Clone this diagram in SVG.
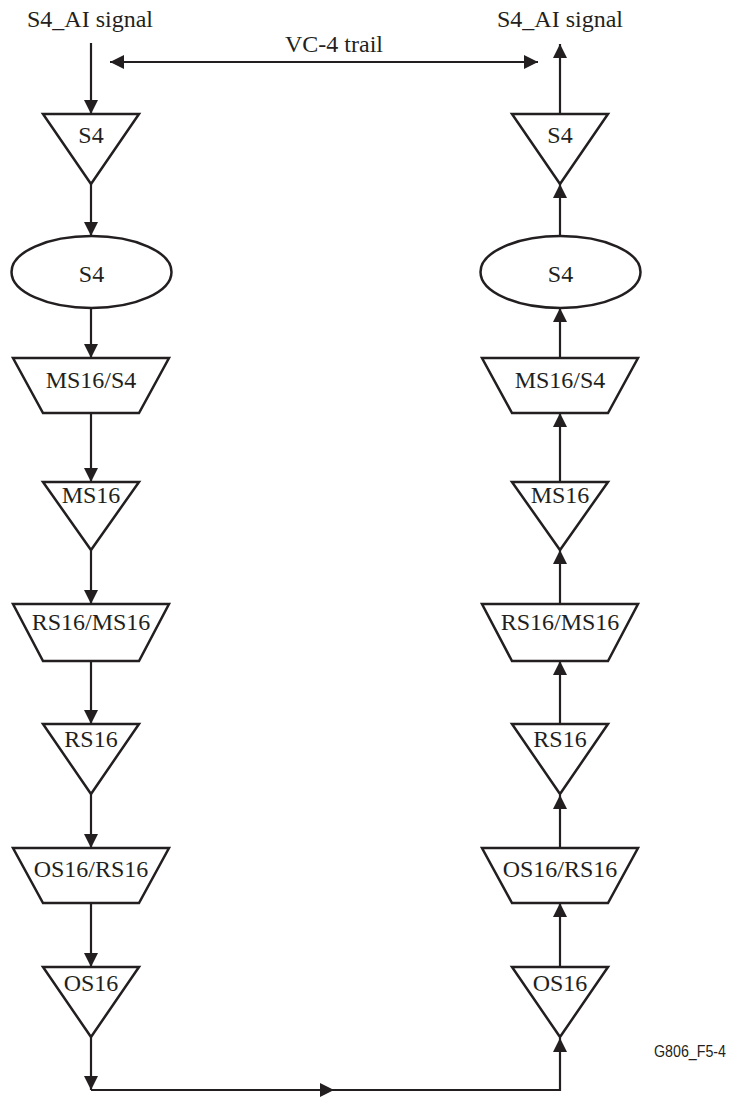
<svg xmlns="http://www.w3.org/2000/svg" width="734" height="1099" viewBox="0 0 734 1099">
<style>
.shape{fill:#fff;stroke:#231f20;stroke-width:2.5;stroke-linejoin:miter}
.conn{fill:none;stroke:#231f20;stroke-width:2.2}
.lbl{font-family:"Liberation Serif","Times New Roman",serif;font-size:24px;fill:#231f20;text-anchor:middle}
.ref{font-family:"Liberation Sans",Arial,sans-serif;font-size:16px;fill:#231f20}
</style>
<defs>
<marker id="arr" markerUnits="userSpaceOnUse" markerWidth="14" markerHeight="14" viewBox="0 0 13 13" refX="13" refY="6.5" orient="auto-start-reverse">
<path d="M0,0 L13,6.5 L0,13 z" fill="#231f20"/>
</marker>
</defs>
<rect width="734" height="1099" fill="#fff"/>
<g id="connectors">
<path class="conn" d="M110,62 H538" marker-start="url(#arr)" marker-end="url(#arr)"/>
<path class="conn" d="M91,43 V114" marker-end="url(#arr)"/>
<path class="conn" d="M91,184 V236" marker-end="url(#arr)"/>
<path class="conn" d="M91,308 V358" marker-end="url(#arr)"/>
<path class="conn" d="M91,413 V482" marker-end="url(#arr)"/>
<path class="conn" d="M91,550 V604" marker-end="url(#arr)"/>
<path class="conn" d="M91,661 V724" marker-end="url(#arr)"/>
<path class="conn" d="M91,794 V848" marker-end="url(#arr)"/>
<path class="conn" d="M91,903 V967" marker-end="url(#arr)"/>
<path class="conn" d="M91,1037 V1090" marker-end="url(#arr)"/>
<path class="conn" d="M91,1090 H334" marker-end="url(#arr)"/>
<path class="conn" d="M334,1090 H560 V1038" marker-end="url(#arr)"/>
<path class="conn" d="M560,967 V903" marker-end="url(#arr)"/>
<path class="conn" d="M560,848 V795" marker-end="url(#arr)"/>
<path class="conn" d="M560,724 V661" marker-end="url(#arr)"/>
<path class="conn" d="M560,604 V550" marker-end="url(#arr)"/>
<path class="conn" d="M560,482 V413" marker-end="url(#arr)"/>
<path class="conn" d="M560,358 V308" marker-end="url(#arr)"/>
<path class="conn" d="M560,236 V184" marker-end="url(#arr)"/>
<path class="conn" d="M560,114 V44" marker-end="url(#arr)"/>
</g>
<g id="labels">
<text class="lbl" x="90" y="27">S4_AI signal</text>
<text class="lbl" x="560" y="27">S4_AI signal</text>
<text class="lbl" x="334" y="52">VC-4 trail</text>
<text class="ref" x="654" y="1057" textLength="72" lengthAdjust="spacingAndGlyphs">G806_F5-4</text>
</g>
<g id="L-S4-tt"><polygon class="shape" points="43,114 139,114 91,184"/><text class="lbl" x="91" y="143">S4</text></g>
<g id="L-S4-adapt"><ellipse class="shape" cx="91.5" cy="272" rx="80" ry="36"/><text class="lbl" x="91.5" y="282">S4</text></g>
<g id="L-MS16-S4"><polygon class="shape" points="13,358 169,358 139,413 43,413"/><text class="lbl" x="91" y="388">MS16/S4</text></g>
<g id="L-MS16"><polygon class="shape" points="43,482 139,482 91,550"/><text class="lbl" x="91" y="503">MS16</text></g>
<g id="L-RS16-MS16"><polygon class="shape" points="13,604 169,604 139,661 43,661"/><text class="lbl" x="91" y="630">RS16/MS16</text></g>
<g id="L-RS16"><polygon class="shape" points="43,724 139,724 91,794"/><text class="lbl" x="91" y="747">RS16</text></g>
<g id="L-OS16-RS16"><polygon class="shape" points="13,848 169,848 139,903 43,903"/><text class="lbl" x="91" y="877">OS16/RS16</text></g>
<g id="L-OS16"><polygon class="shape" points="43,967 139,967 91,1037"/><text class="lbl" x="91" y="991">OS16</text></g>
<g id="R-S4-tt"><polygon class="shape" points="512,114 608,114 560,184"/><text class="lbl" x="560" y="143">S4</text></g>
<g id="R-S4-adapt"><ellipse class="shape" cx="560.5" cy="272" rx="80" ry="36"/><text class="lbl" x="560.5" y="282">S4</text></g>
<g id="R-MS16-S4"><polygon class="shape" points="482,358 638,358 608,413 512,413"/><text class="lbl" x="560" y="388">MS16/S4</text></g>
<g id="R-MS16"><polygon class="shape" points="512,482 608,482 560,550"/><text class="lbl" x="560" y="503">MS16</text></g>
<g id="R-RS16-MS16"><polygon class="shape" points="482,604 638,604 608,661 512,661"/><text class="lbl" x="560" y="630">RS16/MS16</text></g>
<g id="R-RS16"><polygon class="shape" points="512,724 608,724 560,794"/><text class="lbl" x="560" y="747">RS16</text></g>
<g id="R-OS16-RS16"><polygon class="shape" points="482,848 638,848 608,903 512,903"/><text class="lbl" x="560" y="877">OS16/RS16</text></g>
<g id="R-OS16"><polygon class="shape" points="512,967 608,967 560,1037"/><text class="lbl" x="560" y="991">OS16</text></g>
</svg>
